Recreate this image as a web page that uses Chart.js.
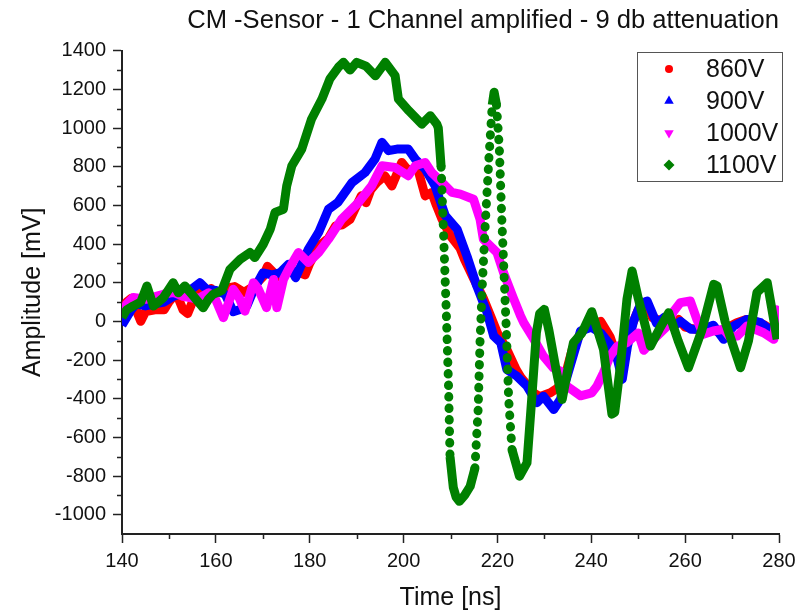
<!DOCTYPE html>
<html>
<head>
<meta charset="utf-8">
<title>CM -Sensor pulses</title>
<script src="https://cdn.jsdelivr.net/npm/chart.js@4.4.1/dist/chart.umd.min.js"></script>
<style>
  html, body { margin: 0; padding: 0; background: #fff; }
  canvas { display: block; }
</style>
</head>
<body>
<canvas id="pulseChart" width="798" height="613"></canvas>
<script>
// traces: time [ns] / amplitude [mV]
const seriesNames = ['860V', '900V', '1000V', '1100V'];
const xTicks = [140, 160, 180, 200, 220, 240, 260, 280];
const yTicks = [-1000, -800, -600, -400, -200, 0, 200, 400, 600, 800, 1000, 1200, 1400];

const t860 = [140, 141, 142, 143, 144, 145, 147, 149, 150, 151, 152, 153, 154, 155, 156, 158, 159, 160, 162, 164,
  166, 168, 170, 171, 172, 173, 175, 177, 179, 180, 182, 184, 185.5, 187, 188.6, 190, 191, 192, 193, 194.3,
  196, 197.5, 199.6, 201, 203, 204.6, 206, 207, 208.2, 210, 212, 213, 215, 217, 218.5, 220, 222, 224, 225, 227.7,
  229, 231.3, 232.5, 234, 236, 238, 240, 242, 244, 246, 248, 250, 251.5, 253, 255, 257, 258.6, 260, 262, 264,
  266, 268, 270, 271, 273, 275, 277, 279, 280];
const v860 = [30, 100, 120, 60, 0, 50, 60, 60, 100, 130, 120, 60, 40, 100, 160, 150, 170, 140, 170, 180,
  150, 180, 230, 285, 260, 230, 260, 260, 240, 300, 390, 430, 494, 500, 528, 600, 650, 614, 680, 718,
  753, 700, 822, 780, 790, 649, 667, 600, 528, 442, 380, 320, 218, 120, 30, -60, -145, -250, -290, -369,
  -390, -369, -350, -320, -140, -50, -20, 0, -80, -220, -60, 60, 100, 20, 0, -10, 10, -30, -40, -50,
  -40, -70, -20, -7, 10, 0, -20, -50, -60];

const t900 = [140, 141, 142, 143, 145, 147, 149, 151, 153, 155, 156.6, 158, 160, 162, 163.7, 165, 166.6, 168, 170, 172,
  173.7, 175.5, 177, 179.7, 181.9, 184, 186, 189, 191.8, 193.9, 195.4, 196.8, 198.6, 201, 202.5, 204.6, 206.7, 208.9, 211.4, 213.5,
  215.6, 217.8, 219.2, 220.7, 222, 224.1, 226.3, 228.4, 229.8, 232, 233.4, 235.5, 237.7, 240, 242, 244, 245.6, 246.6, 247.7, 249,
  250.5, 251.9, 253.9, 255.5, 257.6, 259, 261.2, 263.7, 266, 268.2, 270.3, 273.2, 276.1, 278.9, 280];
const v900 = [-20, 20, 60, 90, 80, 90, 100, 130, 150, 170, 200, 166, 160, 140, 50, 60, 80, 160, 250, 240,
  252, 295, 226, 373, 460, 580, 615, 718, 770, 839, 926, 883, 891, 891, 839, 788, 701, 546, 477, 338,
  183, 45, -76, -110, -249, -283, -335, -421, -387, -456, -404, -231, -50, -30, -60, -120, -200, -300, -130, 0,
  90, 105, -10, 20, -24, 0, -41, -41, -20, -93, -24, 10, -7, -59, -30];

const t1000 = [140, 141, 142.4, 145, 148.8, 151, 153, 155, 156.6, 158.5, 160, 161.6, 163.7, 165, 166.2, 168, 169, 170.8, 172.3, 173,
  174.4, 175.5, 177.6, 179.7, 181.9, 184, 186.8, 190.4, 193.2, 195.4, 198.2, 201, 202.5, 204.6, 206, 208.2, 210.3, 212.1, 214.9, 216.3,
  217, 219.9, 221.3, 223.4, 224.9, 225.6, 227.7, 229.8, 231.9, 233.4, 234.8, 237.7, 240.1, 241.2, 242.6, 244, 245.5, 247.6, 250, 251.2,
  253.3, 256.2, 257.5, 259, 261.1, 262.5, 263.9, 266, 268.2, 269.5, 271.1, 273.2, 276.7, 278.9, 279.4, 280];
const v1000 = [40, 90, 123, 114, 140, 150, 130, 120, 122, 148, 110, 19, 166, 120, 53, 200, 170, 71, 217, 71,
  217, 269, 356, 304, 356, 425, 528, 615, 701, 805, 796, 753, 805, 822, 770, 718, 667, 658, 632, 528,
  425, 356, 252, 120, 30, -7, -90, -180, -240, -257, -335, -385, -370, -335, -266, -180, -130, -110, -60, -150,
  -93, -24, 50, 97, 105, 10, -67, -50, -41, -80, -76, -24, -59, -93, 60, -80];

const t1100 = [140, 141, 142.4, 144, 145.3, 146.7, 148.8, 150.9, 152, 153.4, 154.9, 157.3, 158.4, 159.4, 161.3, 163, 165.2, 167.3, 168.3, 170.1,
  171.6, 172.6, 174.4, 175.1, 176.2, 178.3, 180.4, 182.6, 184.3, 186.1, 187.2, 188.6, 190, 192, 194, 196.1, 198.2, 198.9, 201.1, 203.9,
  205.7, 207.1, 207.4, 208, 208.6, 209.1, 209.6, 209.9, 210.6, 211.2, 211.9, 213, 214.2, 215.2, 215.9, 216.3, 216.8, 217.4, 218.2, 218.9,
  219.3, 219.8, 220.4, 220.9, 221.4, 221.9, 222.4, 223.1, 224.7, 226.3, 227.3, 228.3, 229, 230, 231, 232.5, 233.8, 235, 236.2, 238,
  240.1, 242.6, 244.4, 245, 246.2, 247.6, 248.7, 250, 252.6, 254.5, 256.5, 258.5, 260.7, 263.5, 266.1, 266.8, 268.5, 271.8, 273.5, 275.3,
  277.5, 279.6];
const v1100 = [20, 60, 80, 100, 183, 79, 122, 200, 148, 183, 140, 70, 114, 140, 160, 269, 321, 356, 330, 399,
  477, 563, 580, 701, 805, 891, 1047, 1150, 1254, 1314, 1340, 1300, 1340, 1320, 1270, 1340, 1271, 1150, 1090, 1020,
  1064, 1020, 1000, 800, 400, 50, -350, -700, -860, -910, -931, -900, -853, -760, -450, -100, 200, 500, 850, 1120,
  1185, 1120, 900, 550, 250, -50, -404, -663, -801, -732, -404, -59, 40, 62, -50, -250, -404, -250, -110, -60,
  50, -145, -480, -470, -231, 114, 261, 120, -128, -40, 45, -100, -240, -50, 192, 183, 0, -240, -100, 149,
  200, -93];

const FONT = "'Liberation Sans', Arial, sans-serif";
Chart.defaults.font.family = FONT;
Chart.defaults.color = '#111';

function toPoints(ts, vs) {
  return ts.map((t, i) => ({ x: t, y: vs[i] }));
}

// steep parts of the 1100V trace show as separate markers in the original
function isSteep(ctx) {
  const dx = Math.abs(ctx.p1.x - ctx.p0.x);
  const dy = Math.abs(ctx.p1.y - ctx.p0.y);
  return dy / Math.max(dx, 0.01) > 15;
}

// Origin-style minor ticks between the labelled ones
const minorTicks = {
  id: 'minorTicks',
  afterDraw(chart) {
    const { ctx, chartArea, scales: { x, y } } = chart;
    ctx.save();
    ctx.strokeStyle = '#222';
    ctx.lineWidth = 1.5;
    ctx.beginPath();
    for (let v = -900; v <= 1300; v += 200) {
      const py = Math.round(y.getPixelForValue(v)) + 0.5;
      ctx.moveTo(chartArea.left - 5, py);
      ctx.lineTo(chartArea.left, py);
    }
    for (let t = 150; t < 280; t += 20) {
      const px = Math.round(x.getPixelForValue(t)) + 0.5;
      ctx.moveTo(px, chartArea.bottom);
      ctx.lineTo(px, chartArea.bottom + 5);
    }
    ctx.stroke();
    ctx.restore();
  }
};

// boxed legend in the upper right corner
const legendBox = {
  id: 'legendBox',
  afterDraw(chart) {
    const ctx = chart.ctx;
    ctx.save();
    ctx.strokeStyle = '#555';
    ctx.lineWidth = 1;
    ctx.strokeRect(637.5, 52.5, 145, 129);
    ctx.font = '25px ' + FONT;
    ctx.textBaseline = 'middle';
    chart.data.datasets.forEach((ds, i) => {
      const y = 69 + i * 32;
      ctx.fillStyle = ds.backgroundColor;
      Chart.helpers.drawPoint(ctx, {
        pointStyle: ds.pointStyle,
        rotation: ds.pointRotation || 0,
        radius: ds.pointStyle === 'circle' ? 4 : 5.5,
        borderWidth: 0
      }, 669, y);
      ctx.fillStyle = '#111';
      ctx.fillText(ds.label, 706, y + 1);
    });
    ctx.restore();
  }
};

const ctx = document.getElementById('pulseChart').getContext('2d');
const pulseChart = new Chart(ctx, {
  type: 'line',
  data: {
    datasets: [
      { label: seriesNames[0], data: toPoints(t860, v860), borderColor: '#ff0000', backgroundColor: '#ff0000',
        pointStyle: 'circle', order: 4 },
      { label: seriesNames[1], data: toPoints(t900, v900), borderColor: '#0000ff', backgroundColor: '#0000ff',
        pointStyle: 'triangle', order: 3 },
      { label: seriesNames[2], data: toPoints(t1000, v1000), borderColor: '#ff00ff', backgroundColor: '#ff00ff',
        pointStyle: 'triangle', pointRotation: 180, order: 2 },
      { label: seriesNames[3], data: toPoints(t1100, v1100), borderColor: '#008000', backgroundColor: '#008000',
        pointStyle: 'rectRot', order: 1,
        segment: {
          borderDash: c => isSteep(c) ? [0.5, 11] : undefined,
          borderCapStyle: c => isSteep(c) ? 'round' : undefined
        } }
    ]
  },
  options: {
    responsive: false,
    animation: false,
    devicePixelRatio: 1,
    layout: { padding: { top: 0, right: 19, bottom: 0, left: 0 } },
    elements: {
      line: { borderWidth: 9, tension: 0, borderJoinStyle: 'round', borderCapStyle: 'butt' },
      point: { radius: 0, hoverRadius: 0 }
    },
    plugins: {
      legend: { display: false },
      tooltip: { enabled: false },
      title: {
        display: true,
        text: 'CM -Sensor - 1 Channel amplified - 9 db attenuation',
        align: 'end',
        color: '#111',
        font: { size: 25.6, weight: 'normal' },
        padding: { top: 6, bottom: 14 }
      }
    },
    scales: {
      x: {
        type: 'linear',
        min: 140,
        max: 280,
        afterBuildTicks: (s) => { s.ticks = xTicks.map(v => ({ value: v })); },
        ticks: { font: { size: 20 }, color: '#111', padding: 6, maxRotation: 0, callback: v => String(v) },
        grid: { drawOnChartArea: false, tickLength: 9, tickColor: '#222', tickWidth: 1.5 },
        border: { color: '#222', width: 2 },
        title: { display: true, text: 'Time [ns]', font: { size: 25 }, color: '#111', padding: { top: 0, bottom: 0 } },
        afterFit: (s) => { s.height = 79; s.paddingLeft = 0; s.paddingRight = 0; }
      },
      y: {
        type: 'linear',
        min: -1100,
        max: 1400,
        afterBuildTicks: (s) => { s.ticks = yTicks.map(v => ({ value: v })); },
        ticks: { font: { size: 20 }, color: '#111', padding: 7, callback: v => String(v) },
        grid: { drawOnChartArea: false, tickLength: 9, tickColor: '#222', tickWidth: 1.5 },
        border: { color: '#222', width: 2 },
        title: { display: true, text: 'Amplitude [mV]', font: { size: 25 }, color: '#111', padding: { top: 18, bottom: 0 } },
        afterFit: (s) => { s.width = 122; }
      }
    }
  },
  plugins: [minorTicks, legendBox]
});
</script>
</body>
</html>
